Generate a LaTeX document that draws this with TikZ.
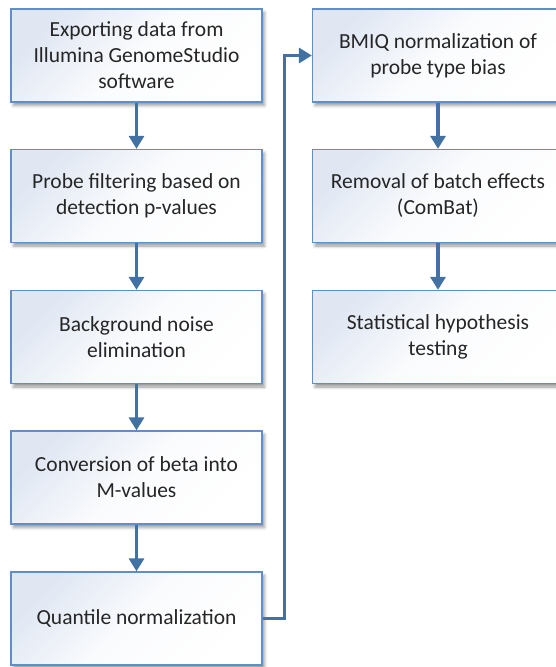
\documentclass[tikz,border=0pt]{standalone}
\usepackage{fontspec}
\setmainfont{Carlito}
\usetikzlibrary{arrows.meta,shadows.blur,positioning}
\definecolor{boxborder}{RGB}{98,142,198}
\definecolor{boxfill}{RGB}{224,231,243}
\definecolor{arrowblue}{RGB}{66,114,163}
\definecolor{txt}{RGB}{38,38,38}
\tikzset{
  stepbox/.style={draw=boxborder, line width=1.3pt, minimum width=251pt, minimum height=93pt,
    top color=boxfill, bottom color=white, middle color=white!85!boxfill, shading angle=45,
    blur shadow={shadow xshift=2.5pt, shadow yshift=-3.5pt, shadow blur radius=3pt, shadow opacity=40},
    align=center, text=txt, font=\fontsize{21.5}{26}\selectfont, inner sep=0pt},
  flow/.style={draw=arrowblue, line width=3.6pt, -{Triangle[width=15pt,length=13pt]}}
}
\begin{document}
\begin{tikzpicture}[x=1pt,y=1pt]
\useasboundingbox (0,0) rectangle (556,-667);
\clip (0,0) rectangle (556,-667);
\node[stepbox] (b1) at (136.5,-55.5) {Exporting data from\\Illumina GenomeStudio\\software};
\node[stepbox] (b2) at (136.5,-196) {Probe filtering based on\\detection p-values};
\node[stepbox] (b3) at (136.5,-337) {Background noise\\elimination};
\node[stepbox] (b4) at (136.5,-477.5) {Conversion of beta into\\M-values};
\node[stepbox] (b5) at (136.5,-618.5) {Quantile normalization};
\node[stepbox] (r1) at (438,-55.5) {BMIQ normalization of\\probe type bias};
\node[stepbox] (r2) at (438,-196) {Removal of batch effects\\(ComBat)};
\node[stepbox] (r3) at (438,-337) {Statistical hypothesis\\testing};
\draw[flow] (b1) -- (b2);
\draw[flow] (b2) -- (b3);
\draw[flow] (b3) -- (b4);
\draw[flow] (b4) -- (b5);
\draw[flow] (r1) -- (r2);
\draw[flow] (r2) -- (r3);
\draw[flow] (b5.east) -- ++(22,0) |- (r1.west);
\end{tikzpicture}
\end{document}
